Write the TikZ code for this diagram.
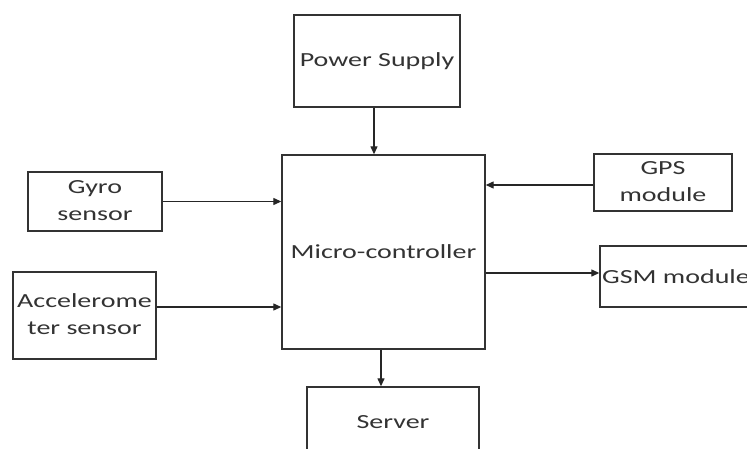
\documentclass[tikz,border=0pt]{standalone}
\usepackage{fontspec}
\usepackage{graphicx}
\setmainfont{Carlito}
\usetikzlibrary{arrows.meta}
\newcommand{\hs}[1]{\scalebox{1.4}[1]{#1}}
\newcommand{\twoline}[2]{\hs{\begin{tabular}{@{}c@{}}#1\\#2\end{tabular}}}
\tikzset{
  blk/.style={draw=black!80, line width=1.4pt, inner sep=0pt, text=black!80,
              font=\fontsize{20}{27}\selectfont},
  conn/.style={draw=black!85, line width=1.3pt, -{Triangle[length=8pt,width=7pt]}}
}
\begin{document}
\begin{tikzpicture}[x=1pt,y=1pt]
\useasboundingbox (0,0) rectangle (747,448);
\clip (0,0) rectangle (747,448);
\fill[white] (0,0) rectangle (747,448);
\node[blk, minimum width=166pt, minimum height=92pt] (ps) at (377,387) {\hs{Power Supply}};
\node[blk, minimum width=203pt, minimum height=194pt] (mc) at (383.5,196) {\hs{Micro-controller}};
\node[blk, minimum width=134pt, minimum height=59pt] (gyro) at (95,246.5) {\twoline{Gyro}{sensor}};
\node[blk, minimum width=143pt, minimum height=87pt] (acc) at (84.5,132.5) {\twoline{Accelerome}{ter sensor}};
\node[blk, minimum width=138pt, minimum height=57pt] (gps) at (663,265.5) {\twoline{GPS}{module}};
\node[blk, minimum width=152pt, minimum height=61pt] (gsm) at (676,171.5) {\hs{GSM module}};
\node[blk, minimum width=172pt, minimum height=70pt] (srv) at (393,26) {\hs{Server}};
\draw[conn] ([xshift=-3pt]ps.south) -- ([xshift=-3pt]ps.south |- mc.north);
\draw[conn] (gyro.east) -- (gyro.east -| mc.west);
\draw[conn] ([yshift=8.5pt]acc.east) -- ([yshift=8.5pt]acc.east -| mc.west);
\draw[conn] ([yshift=-2.5pt]gps.west) -- ([yshift=-2.5pt]gps.west -| mc.east);
\draw[conn] ([yshift=3.5pt]gsm.west -| mc.east) -- ([yshift=3.5pt]gsm.west);
\draw[conn] ([xshift=-2.5pt]mc.south) -- ([xshift=-2.5pt]mc.south |- srv.north);
\end{tikzpicture}
\end{document}
